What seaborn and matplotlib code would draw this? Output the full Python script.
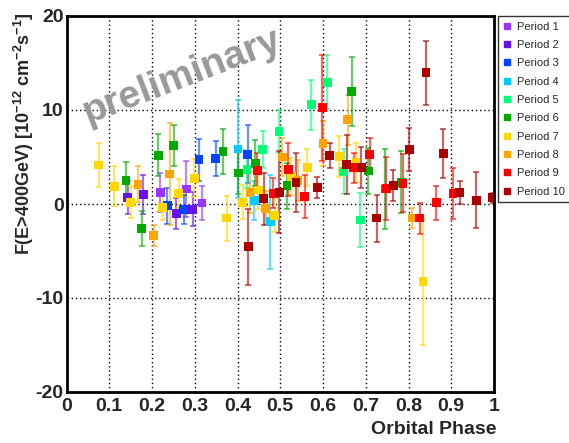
import numpy as np
import pandas as pd
import matplotlib
matplotlib.use("Agg")
import matplotlib.pyplot as plt
import seaborn as sns
from matplotlib.ticker import MultipleLocator
from matplotlib.lines import Line2D

# ---------------- data ----------------
periods = [f"Period {i}" for i in range(1, 11)]
colors = ["#9933FF", "#6611EE", "#0044FF", "#00CCFF", "#00FF77",
          "#00AA00", "#FFD700", "#FFA500", "#FF0000", "#AA0000"]

p1_phase = [0.219, 0.280, 0.317]
p1_flux = [1.2, 1.6, 0.1]
p1_err = [2.1, 3.0, 1.8]

p2_phase = [0.143, 0.180, 0.257, 0.295]
p2_flux = [0.7, 1.0, -1.0, -0.55]
p2_err = [1.8, 2.1, 1.65, 1.8]

p3_phase = [0.236, 0.274, 0.310, 0.349, 0.424]
p3_flux = [-0.2, -0.55, 4.7, 4.8, 5.3]
p3_err = [1.9, 1.55, 2.2, 1.85, 3.1]

p4_phase = [0.401, 0.439, 0.477]
p4_flux = [5.85, 0.4, -1.9]
p4_err = [5.2, 2.1, 5.0]

p5_phase = [0.422, 0.459, 0.497, 0.573, 0.610, 0.648, 0.687]
p5_flux = [3.7, 5.8, 7.7, 10.55, 12.95, 3.45, -1.7]
p5_err = [2.0, 2.0, 2.3, 2.65, 2.85, 2.4, 2.9]

p6_phase = [0.139, 0.176, 0.215, 0.251, 0.366, 0.402, 0.442, 0.516, 0.667, 0.706, 0.746, 0.783]
p6_flux = [2.5, -2.6, 5.2, 6.2, 5.6, 3.3, 4.35, 1.95, 11.95, 3.5, 1.6, 2.3]
p6_err = [2.0, 1.9, 2.2, 2.2, 2.4, 2.2, 2.45, 2.45, 3.7, 2.45, 4.25, 3.3]

p7_phase = [0.075, 0.112, 0.150, 0.225, 0.262, 0.299, 0.375, 0.412, 0.449, 0.487,
            0.526, 0.563, 0.638, 0.677, 0.834]
p7_flux = [4.15, 1.9, 0.2, -0.35, 1.1, 2.75, -1.5, 0.2, 1.5, -1.2, 2.9, 3.9, 5.05, 4.4, -8.25]
p7_err = [2.3, 2.1, 1.7, 1.4, 1.55, 2.0, 2.4, 1.8, 2.0, 1.8, 1.95, 2.0, 2.2, 2.1, 6.7]

p8_phase = [0.167, 0.204, 0.241, 0.429, 0.466, 0.505, 0.541, 0.600, 0.658, 0.809]
p8_flux = [2.1, -3.35, 3.2, 1.2, -0.45, 5.0, 2.5, 6.45, 8.95, -1.5]
p8_err = [1.9, 1.1, 5.4, 2.2, 1.8, 2.0, 2.2, 2.4, 2.65, 1.1]

p9_phase = [0.446, 0.484, 0.519, 0.557, 0.598, 0.672, 0.709, 0.748, 0.787, 0.826, 0.865, 0.904]
p9_flux = [3.55, 1.15, 3.65, 0.8, 10.25, 3.85, 5.3, 1.65, 2.2, -1.5, 0.15, 1.15]
p9_err = [1.9, 1.6, 2.8, 2.25, 5.65, 1.6, 1.7, 3.3, 3.1, 1.65, 1.8, 2.7]

p10_phase = [0.425, 0.461, 0.498, 0.537, 0.587, 0.616, 0.655, 0.690, 0.726, 0.764,
             0.802, 0.841, 0.881, 0.920, 0.959, 0.997]
p10_flux = [-4.55, 0.55, 1.25, 2.3, 1.75, 5.15, 4.2, 3.85, -1.5, 2.0, 5.8, 13.95, 5.4, 1.2, 0.4, 0.65]
p10_err = [4.05, 2.8, 4.35, 3.1, 1.1, 1.33, 3.1, 2.2, 2.5, 1.65, 2.25, 3.4, 2.6, 1.25, 3.0, 0.5]

x_ticks = [0, 0.1, 0.2, 0.3, 0.4, 0.5, 0.6, 0.7, 0.8, 0.9, 1]
x_tick_labels = ["0", "0.1", "0.2", "0.3", "0.4", "0.5", "0.6", "0.7", "0.8", "0.9", "1"]
y_ticks = [-20, -10, 0, 10, 20]
y_tick_labels = ["-20", "-10", "0", "10", "20"]

all_phase = [p1_phase, p2_phase, p3_phase, p4_phase, p5_phase,
             p6_phase, p7_phase, p8_phase, p9_phase, p10_phase]
all_flux = [p1_flux, p2_flux, p3_flux, p4_flux, p5_flux,
            p6_flux, p7_flux, p8_flux, p9_flux, p10_flux]
all_err = [p1_err, p2_err, p3_err, p4_err, p5_err,
           p6_err, p7_err, p8_err, p9_err, p10_err]

rows = []
for name, ph, fl, er in zip(periods, all_phase, all_flux, all_err):
    for a, b, c in zip(ph, fl, er):
        rows.append({"period": name, "phase": a, "flux": b, "err": c})
df = pd.DataFrame(rows)
palette = dict(zip(periods, colors))

# ---------------- style ----------------
sns.set_theme(style="white")
plt.rcParams["font.family"] = ["Liberation Sans", "DejaVu Sans"]
plt.rcParams["mathtext.fontset"] = "custom"
plt.rcParams["mathtext.rm"] = "Liberation Sans:bold"
plt.rcParams["mathtext.default"] = "rm"

W, H = 569, 443
fig = plt.figure(figsize=(W / 100, H / 100), dpi=100)
fig.patch.set_facecolor("white")
x0, x1, yt, yb = 66.5, 494, 16, 392
ax = fig.add_axes([x0 / W, 1 - yb / H, (x1 - x0) / W, (yb - yt) / H])
ax.set_facecolor("white")

for name in periods:
    sub = df[df["period"] == name]
    ax.errorbar(sub["phase"], sub["flux"], yerr=sub["err"], fmt="none",
                ecolor=palette[name], alpha=0.6, elinewidth=1.6,
                capsize=2.5, capthick=1.4, zorder=2)

sns.scatterplot(data=df, x="phase", y="flux", hue="period", palette=palette,
                hue_order=periods, marker="s", s=40, edgecolor="none",
                linewidth=0, legend=False, ax=ax, zorder=3)

ax.set_xlim(0, 1)
ax.set_ylim(-20, 20)
ax.set_xticks(x_ticks)
ax.set_xticklabels(x_tick_labels)
ax.set_yticks(y_ticks)
ax.set_yticklabels(y_tick_labels)
ax.xaxis.set_minor_locator(MultipleLocator(0.02))
ax.yaxis.set_minor_locator(MultipleLocator(2))
ax.tick_params(axis="both", which="major", direction="in", length=6, width=1,
               labelsize=14, color="black", top=False, right=False)
ax.tick_params(axis="both", which="minor", direction="in", length=3, width=0.8,
               color="black", top=False, right=False)
ax.tick_params(axis="x", which="major", pad=4)
ax.tick_params(axis="y", which="major", pad=2)
for lab in ax.get_xticklabels() + ax.get_yticklabels():
    lab.set_fontweight("bold")

ax.grid(True, which="major", linestyle=(0, (1, 2)), color="black", linewidth=1)
for sp in ax.spines.values():
    sp.set_color("black")
    sp.set_linewidth(2)

ax.set_xlabel("Orbital Phase", fontsize=14, fontweight="bold", loc="right")
ax.xaxis.set_label_coords((496 - x0) / (x1 - x0), -(421 - yb) / (yb - yt))
ax.xaxis.label.set_va("top")
ax.set_ylabel(r"F(E>400GeV) [10$^{-12}$ cm$^{-2}$s$^{-1}$]", fontsize=13,
              fontweight="bold", loc="top")
ax.yaxis.set_label_coords(-(x0 - 36) / (x1 - x0), (yb - 12) / (yb - yt))

ax.text((182 - x0) / (x1 - x0), (yb - 77) / (yb - yt), "preliminary",
        transform=ax.transAxes, fontsize=28, fontweight="bold", color="#999999",
        rotation=21, ha="center", va="center", rotation_mode="anchor", zorder=1)

handles = [Line2D([], [], marker="s", color=c, linestyle="none", markersize=5)
           for c in colors]
leg = ax.legend(handles, periods, loc="upper left",
                bbox_to_anchor=(498 / W, 1 - 16 / H), bbox_transform=fig.transFigure,
                frameon=True, fancybox=False, edgecolor="black", fontsize=8,
                handlelength=0.7, handletextpad=0.5, borderaxespad=0,
                labelspacing=0.75, borderpad=0.5)
leg.get_frame().set_linewidth(1)

fig.savefig("out.png", dpi=100, facecolor="white")
